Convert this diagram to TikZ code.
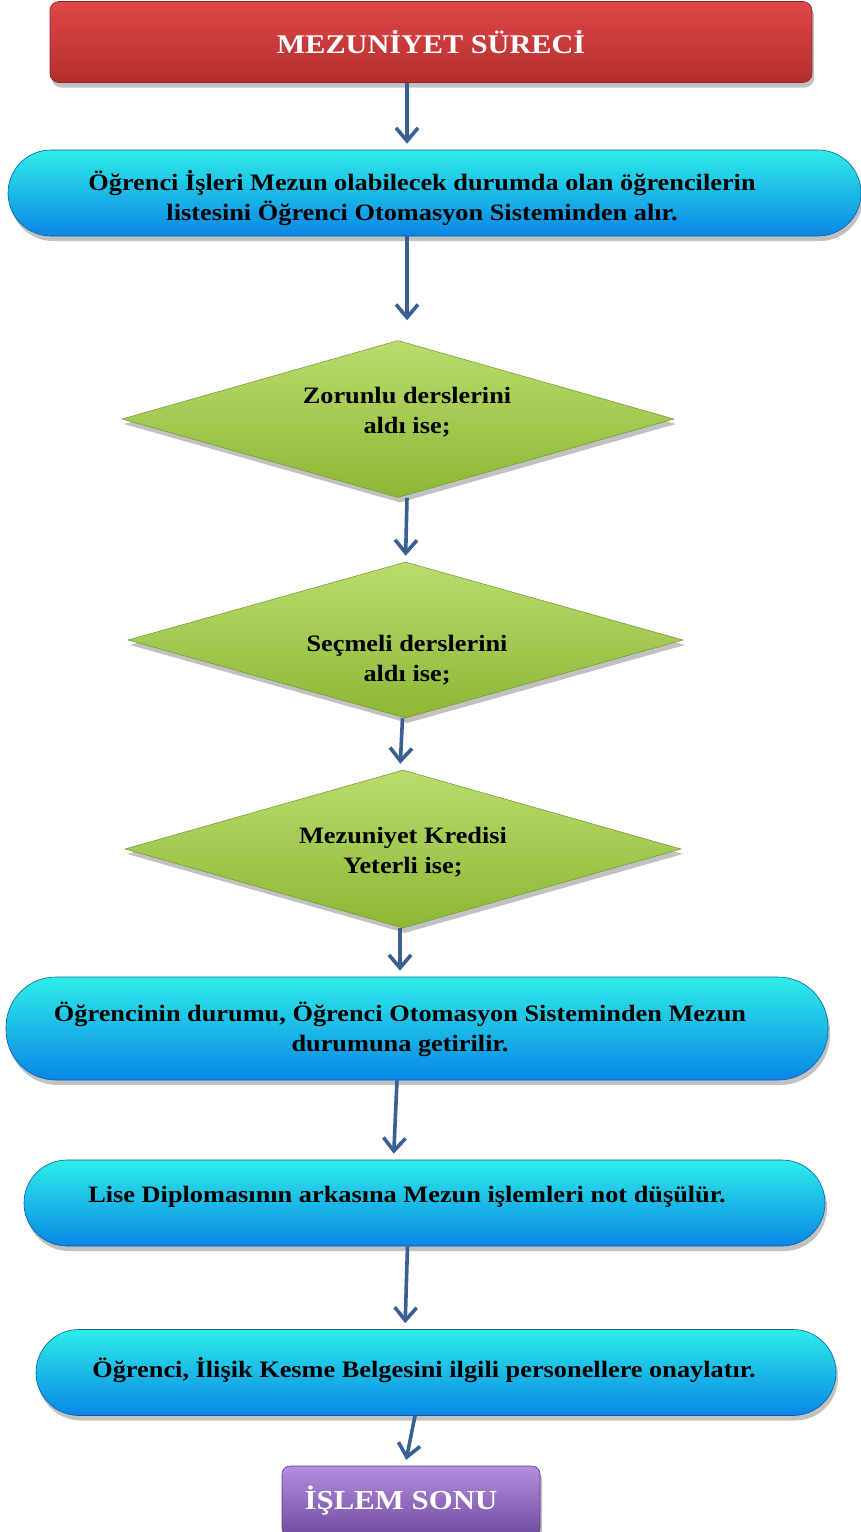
\documentclass[tikz,border=0pt]{standalone}
\usepackage{fontspec}
\setmainfont{Liberation Serif}[FakeStretch=1.12]
\usetikzlibrary{arrows.meta,shapes.geometric,shadows}

\definecolor{arrowblue}{HTML}{3A5F92}
\definecolor{redtop}{HTML}{DE4747}
\definecolor{redbot}{HTML}{B42E2E}
\definecolor{cyantop}{HTML}{2EEDE8}
\definecolor{cyanbot}{HTML}{0A86E6}
\definecolor{greentop}{HTML}{B9DC6E}
\definecolor{greenbot}{HTML}{8DB736}
\definecolor{purptop}{HTML}{B68DE0}
\definecolor{purpbot}{HTML}{6E4C9E}

\tikzset{
  softshadow/.style={drop shadow={shadow xshift=2pt, shadow yshift=-5pt, opacity=0.3, fill=black!80}},
  titlebox/.style={rectangle, rounded corners=9pt, minimum width=762pt, minimum height=81pt,
    top color=redtop, bottom color=redbot, draw=redbot!80!black, line width=0.6pt,
    text=white, font=\fontsize{27}{32}\selectfont\bfseries, softshadow},
  stepbox/.style={rectangle, minimum height=86pt, rounded corners=43pt,
    top color=cyantop, bottom color=cyanbot, draw=cyanbot!70!black, line width=0.6pt,
    softshadow},
  choice/.style={diamond, aspect=3.5, inner sep=0pt, top color=greentop, bottom color=greenbot,
    draw=greenbot!80!black, line width=0.5pt, softshadow},
  steptext/.style={align=center, inner sep=0pt, font=\fontsize{23.5}{30}\selectfont\bfseries},
  endbox/.style={rectangle, rounded corners=8pt, minimum width=258pt, minimum height=70pt,
    top color=purptop, bottom color=purpbot, draw=purpbot!80!black, line width=0.6pt,
    text=white, font=\fontsize{27.5}{32}\selectfont\bfseries, softshadow},
  flow/.style={draw=arrowblue, line width=3.6pt,
    -{Straight Barb[length=13pt, width=22pt, line width=3.6pt]}, shorten >=6pt}
}

\begin{document}
\begin{tikzpicture}[x=1pt, y=-1pt]
  \useasboundingbox (0,0) rectangle (861,1532);

  % shapes
  \node[titlebox] (title) at (431,42) {MEZUNİYET SÜRECİ};
  \node[stepbox, minimum width=853pt] (list) at (434.5,193) {};
  \node[choice, minimum width=552pt, minimum height=157pt] (must) at (398,419) {};
  \node[choice, minimum width=555pt, minimum height=156pt] (elective) at (405.5,640) {};
  \node[choice, minimum width=556pt, minimum height=158pt] (credit) at (403,849) {};
  \node[stepbox, minimum width=822pt, minimum height=103pt, rounded corners=50pt] (status) at (417,1028.5) {};
  \node[stepbox, minimum width=801pt] (diploma) at (424.5,1203) {};
  \node[stepbox, minimum width=800pt] (release) at (436,1372.5) {};
  \node[endbox] (finish) at (411,1501) {\hspace*{-20pt}İŞLEM SONU};

  % texts
  \node[steptext] (listtext) at (422,198)
    {Öğrenci İşleri Mezun olabilecek durumda olan öğrencilerin\\
     listesini Öğrenci Otomasyon Sisteminden alır.};
  \node[steptext] (musttext) at (407,412) {Zorunlu derslerini\\aldı ise;};
  \node[steptext] (electivetext) at (407,660) {Seçmeli derslerini\\aldı ise;};
  \node[steptext] (credittext) at (403,852) {Mezuniyet Kredisi\\Yeterli ise;};
  \node[steptext] (statustext) at (400,1029)
    {Öğrencinin durumu, Öğrenci Otomasyon Sisteminden Mezun\\durumuna getirilir.};
  \node[steptext] (diplomatext) at (407,1197)
    {Lise Diplomasının arkasına Mezun işlemleri not düşülür.};
  \node[steptext] (releasetext) at (424,1370)
    {Öğrenci, İlişik Kesme Belgesini ilgili personellere onaylatır.};

  % connectors
  \draw[flow] ([xshift=-24pt]title.south) -- ([xshift=-27.5pt]list.north);
  \draw[flow, shorten >=20pt] ([xshift=-27.5pt]list.south) -- ([xshift=9pt]must.north);
  \draw[flow] ([xshift=9pt]must.south) -- ([xshift=0pt]elective.north);
  \draw[flow] ([xshift=-3pt]elective.south) -- ([xshift=-3pt]credit.north);
  \draw[flow] ([xshift=-3pt]credit.south) -- ([xshift=-17pt]status.north);
  \draw[flow] ([xshift=-20pt]status.south) -- ([xshift=-31pt]diploma.north);
  \draw[flow] ([xshift=-17pt]diploma.south) -- ([xshift=-31pt]release.north);
  \draw[flow] ([xshift=-21pt]release.south) -- ([xshift=-6pt]finish.north);
\end{tikzpicture}
\end{document}
